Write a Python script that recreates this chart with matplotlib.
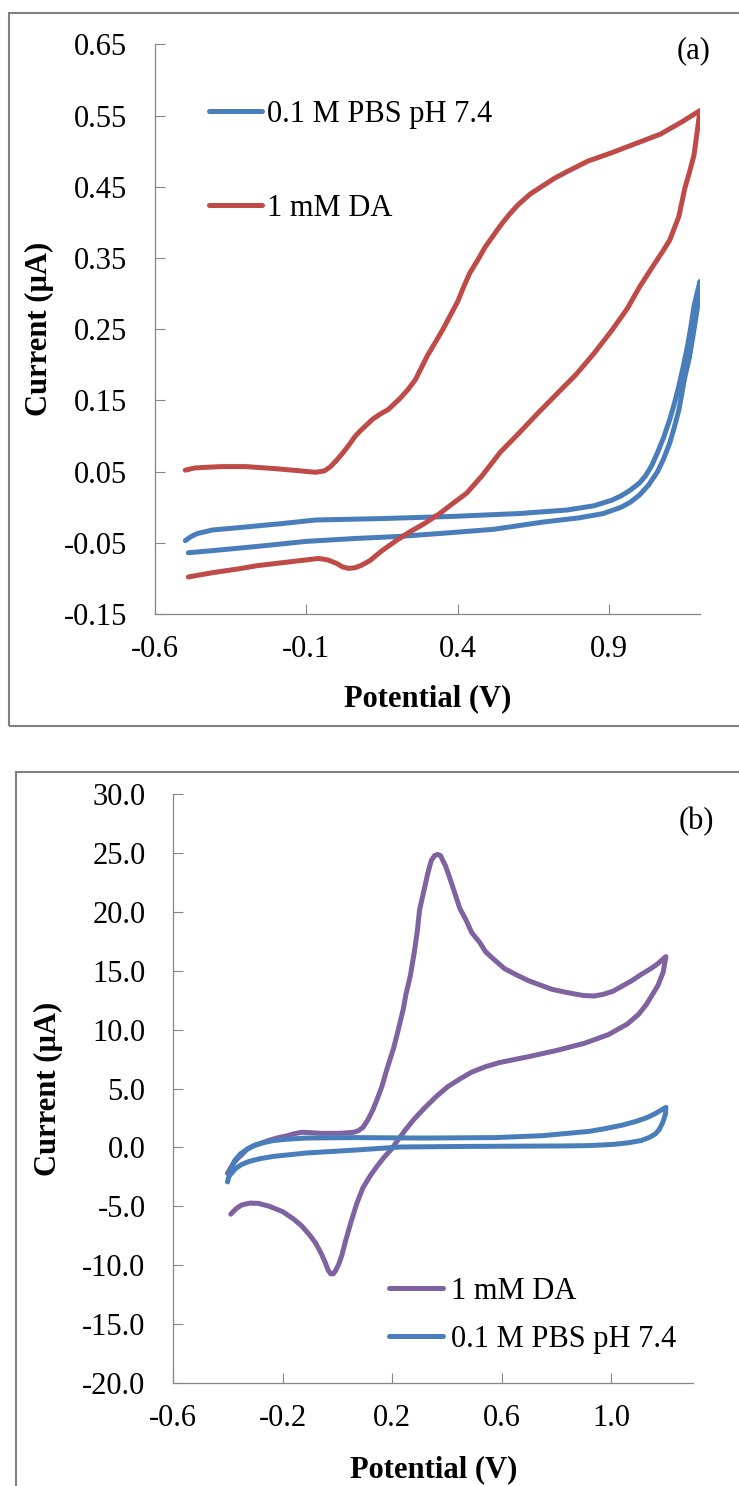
import matplotlib
matplotlib.use("Agg")
import matplotlib.pyplot as plt
from matplotlib.patches import Rectangle

plt.rcParams['font.family'] = ['Liberation Serif', 'DejaVu Serif']

# ---------------- Panel (a) data ----------------
a_pbs_v = [-0.50, -0.48, -0.46, -0.41, -0.33, -0.18, -0.07, 0.15, 0.38, 0.60, 0.76, 0.85, 0.91,
           0.94, 0.97, 1.00, 1.02, 1.04, 1.06, 1.08, 1.10, 1.115, 1.13, 1.145, 1.16, 1.17, 1.18,
           1.19, 1.20,
           1.195, 1.18, 1.165, 1.15, 1.13, 1.115, 1.10, 1.08, 1.06, 1.03, 1.00, 0.97, 0.94, 0.88,
           0.80, 0.68, 0.52, 0.37, 0.21, 0.06, -0.10, -0.26, -0.41, -0.49]
a_pbs_i = [-0.047, -0.041, -0.037, -0.032, -0.029, -0.023, -0.018, -0.016, -0.013, -0.009,
           -0.004, 0.002, 0.010, 0.016, 0.024, 0.034, 0.044, 0.058, 0.077, 0.098, 0.123, 0.145,
           0.170, 0.198, 0.229, 0.254, 0.282, 0.300, 0.317,
           0.290, 0.249, 0.210, 0.183, 0.136, 0.112, 0.090, 0.068, 0.050, 0.031, 0.017, 0.007,
           0.000, -0.009, -0.015, -0.021, -0.031, -0.036, -0.041, -0.044, -0.048, -0.055,
           -0.061, -0.064]

a_da_v = [-0.50, -0.47, -0.43, -0.38, -0.30, -0.20, -0.12, -0.07, -0.04, -0.02, 0.00, 0.02, 0.04,
          0.06, 0.08, 0.10, 0.12, 0.145, 0.17, 0.19, 0.21, 0.235, 0.26, 0.30, 0.35, 0.37, 0.40,
          0.42, 0.44, 0.47, 0.49, 0.54, 0.57, 0.60, 0.64, 0.68, 0.72, 0.76, 0.83, 0.91, 0.99,
          1.07, 1.14, 1.20,
          1.19, 1.18, 1.165, 1.15, 1.13, 1.10, 1.075, 1.05, 1.00, 0.96, 0.91, 0.85, 0.79, 0.72,
          0.66, 0.60, 0.54, 0.48, 0.43, 0.38, 0.34, 0.29, 0.24, 0.20, 0.15, 0.13, 0.11, 0.08,
          0.06, 0.04, 0.02, 0.00, -0.03, -0.06, -0.10, -0.18, -0.26, -0.33, -0.41, -0.49]
a_da_i = [0.052, 0.055, 0.056, 0.057, 0.057, 0.054, 0.051, 0.049, 0.051, 0.057, 0.066, 0.076,
          0.087, 0.099, 0.108, 0.116, 0.124, 0.131, 0.137, 0.145, 0.153, 0.165, 0.179, 0.213,
          0.249, 0.265, 0.289, 0.310, 0.329, 0.350, 0.365, 0.395, 0.411, 0.425, 0.440, 0.451,
          0.462, 0.471, 0.486, 0.498, 0.511, 0.524, 0.541, 0.557,
          0.525, 0.494, 0.470, 0.448, 0.408, 0.375, 0.358, 0.342, 0.309, 0.279, 0.249, 0.216,
          0.186, 0.156, 0.130, 0.103, 0.077, 0.044, 0.020, 0.004, -0.009, -0.023, -0.035,
          -0.046, -0.061, -0.068, -0.075, -0.082, -0.085, -0.086, -0.084, -0.079, -0.074,
          -0.072, -0.074, -0.078, -0.082, -0.087, -0.092, -0.098]

a_xticks = [-0.6, -0.1, 0.4, 0.9]
a_xticklabels = ["-0.6", "-0.1", "0.4", "0.9"]
a_yticks = [-0.15, -0.05, 0.05, 0.15, 0.25, 0.35, 0.45, 0.55, 0.65]
a_yticklabels = ["-0.15", "-0.05", "0.05", "0.15", "0.25", "0.35", "0.45", "0.55", "0.65"]

# ---------------- Panel (b) data ----------------
b_da_v = [-0.39, -0.37, -0.35, -0.32, -0.29, -0.25, -0.20, -0.16, -0.13, -0.10, -0.08, -0.06,
          -0.045, -0.035, -0.025, -0.015, -0.005, 0.005, 0.016, 0.03, 0.05, 0.07, 0.093, 0.12,
          0.145, 0.17, 0.197, 0.22, 0.248, 0.28, 0.317, 0.36, 0.403, 0.45, 0.49, 0.54, 0.593,
          0.697, 0.80, 0.903, 0.99, 1.059, 1.10, 1.128, 1.171, 1.19, 1.20,
          1.17, 1.145, 1.11, 1.076, 1.04, 1.007, 0.97, 0.938, 0.90, 0.869, 0.83, 0.783, 0.74,
          0.697, 0.65, 0.61, 0.57, 0.541, 0.52, 0.49, 0.47, 0.447, 0.43, 0.412, 0.395, 0.376,
          0.366, 0.355, 0.343, 0.33, 0.317, 0.30, 0.291, 0.28, 0.266, 0.25, 0.24, 0.22, 0.205,
          0.18, 0.162, 0.145, 0.128, 0.11, 0.093, 0.075, 0.059, 0.007, -0.062, -0.10, -0.131,
          -0.16, -0.183, -0.22, -0.252, -0.28, -0.303, -0.33, -0.347, -0.365, -0.381, -0.402]
b_da_i = [-5.68, -5.20, -4.90, -4.74, -4.76, -5.00, -5.47, -6.10, -6.70, -7.50, -8.13, -9.00,
          -9.77, -10.40, -10.75, -10.75, -10.40, -9.90, -9.16, -7.90, -6.29, -4.80, -3.43,
          -2.40, -1.59, -0.85, -0.16, 0.60, 1.48, 2.40, 3.32, 4.30, 5.16, 5.85, 6.39, 6.85,
          7.21, 7.70, 8.23, 8.85, 9.58, 10.48, 11.30, 12.12, 13.76, 14.90, 16.21,
          15.60, 15.19, 14.70, 14.17, 13.70, 13.27, 13.00, 12.86, 12.90, 13.02, 13.20, 13.43,
          13.80, 14.17, 14.70, 15.19, 16.00, 16.62, 17.40, 18.26, 19.30, 20.30, 21.50, 22.76,
          23.90, 24.80, 24.89, 24.80, 24.39, 23.30, 21.94, 20.20, 18.26, 16.50, 14.57, 13.00,
          11.71, 9.80, 8.44, 6.60, 5.16, 4.10, 3.12, 2.30, 1.69, 1.40, 1.28, 1.19, 1.19, 1.25,
          1.28, 1.15, 0.99, 0.80, 0.58, 0.35, 0.17, -0.15, -0.56, -0.95, -1.38, -2.20]

b_pbs_v = [-0.402, -0.395, -0.39, -0.375, -0.355, -0.33, -0.303, -0.27, -0.234, -0.18, -0.114,
           0.059, 0.317, 0.576, 0.748, 0.921, 0.98, 1.041, 1.09, 1.128, 1.16, 1.179, 1.20,
           1.198, 1.188, 1.175, 1.162, 1.14, 1.11, 1.06, 1.007, 0.92, 0.834, 0.49, 0.231, 0.059,
           -0.114, -0.234, -0.28, -0.321, -0.35, -0.372, -0.395]
b_pbs_i = [-2.94, -2.30, -1.79, -1.10, -0.56, -0.15, 0.17, 0.40, 0.58, 0.70, 0.79, 0.83, 0.79,
           0.83, 0.99, 1.36, 1.60, 1.89, 2.20, 2.50, 2.85, 3.12, 3.40,
           2.80, 2.09, 1.50, 1.15, 0.85, 0.58, 0.38, 0.25, 0.15, 0.12, 0.08, 0.03, -0.24,
           -0.48, -0.77, -0.95, -1.18, -1.45, -1.79, -2.41]

b_xticks = [-0.6, -0.2, 0.2, 0.6, 1.0]
b_xticklabels = ["-0.6", "-0.2", "0.2", "0.6", "1.0"]
b_yticks = [-20, -15, -10, -5, 0, 5, 10, 15, 20, 25, 30]
b_yticklabels = ["-20.0", "-15.0", "-10.0", "-5.0", "0.0", "5.0", "10.0", "15.0", "20.0",
                 "25.0", "30.0"]

label_pbs = "0.1 M PBS pH 7.4"
label_da = "1 mM DA"

BLUE = "#4A7EBB"
RED = "#BE4B48"
PURPLE = "#7F63A1"
AXC = "#868686"
FS = 22

W, H = 739, 1486
fig = plt.figure(figsize=(W / 100, H / 100), dpi=100)

# panel borders
fig.add_artist(Rectangle((9 / W, (H - 725.7) / H), 1.2, (725.7 - 12.7) / H,
                         transform=fig.transFigure, fill=False, ec="#808080", lw=1.5))
fig.add_artist(Rectangle((15.7 / W, -0.05), 1.2, (H - 772.3) / H + 0.05,
                         transform=fig.transFigure, fill=False, ec="#808080", lw=1.5))

axA = fig.add_axes([155 / W, (H - 614) / H, 545 / W, 569.7 / H])
axB = fig.add_axes([173.3 / W, (H - 1382.7) / H, 520 / W, 588.4 / H])


def style(ax):
    for s in ("top", "right"):
        ax.spines[s].set_visible(False)
    for s in ("left", "bottom"):
        ax.spines[s].set_color(AXC)
        ax.spines[s].set_linewidth(0.9)
    ax.tick_params(axis="both", direction="in", length=7, width=0.8, color=AXC,
                   labelsize=FS)
    ax.tick_params(axis="y", pad=20)
    ax.tick_params(axis="x", pad=15)


line_kw = dict(lw=3.6, solid_capstyle="round", solid_joinstyle="round")

# ----- panel (a)
axA.plot(a_pbs_v, a_pbs_i, color=BLUE, label=label_pbs, **line_kw)
axA.plot(a_da_v, a_da_i, color=RED, label=label_da, **line_kw)
axA.set_xlim(-0.6, 1.2)
axA.set_ylim(-0.15, 0.65)
axA.set_xticks(a_xticks)
axA.set_xticklabels(a_xticklabels)
axA.set_yticks(a_yticks)
axA.set_yticklabels(a_yticklabels)
style(axA)
axA.set_xlabel("Potential (V)", fontsize=FS, fontweight="bold")
axA.set_ylabel("Current (\u00b5A)", fontsize=FS, fontweight="bold")
axA.xaxis.set_label_coords(0.5, -0.123)
axA.yaxis.set_label_coords(-0.186, 0.5)
axA.legend(loc="center left", bbox_to_anchor=(0.099, 0.795), frameon=False, fontsize=FS,
           handlelength=1.72, handletextpad=0.17, labelspacing=2.13, borderpad=0,
           borderaxespad=0)
axA.text(0.989, 0.988, "(a)", transform=axA.transAxes, ha="center", va="center", fontsize=FS)

# ----- panel (b)
axB.plot(b_da_v, b_da_i, color=PURPLE, label=label_da, **line_kw)
axB.plot(b_pbs_v, b_pbs_i, color=BLUE, label=label_pbs, **line_kw)
axB.set_xlim(-0.6, 1.3)
axB.set_ylim(-20, 30)
axB.set_xticks(b_xticks)
axB.set_xticklabels(b_xticklabels)
axB.set_yticks(b_yticks)
axB.set_yticklabels(b_yticklabels)
style(axB)
axB.set_xlabel("Potential (V)", fontsize=FS, fontweight="bold")
axB.set_ylabel("Current (\u00b5A)", fontsize=FS, fontweight="bold")
axB.xaxis.set_label_coords(0.5, -0.123)
axB.yaxis.set_label_coords(-0.212, 0.5)
axB.legend(loc="center left", bbox_to_anchor=(0.415, 0.115), frameon=False, fontsize=FS,
           handlelength=1.76, handletextpad=0.27, labelspacing=0.62, borderpad=0,
           borderaxespad=0)
axB.text(1.005, 0.953, "(b)", transform=axB.transAxes, ha="center", va="center", fontsize=FS)

fig.savefig("out.png", dpi=100)
